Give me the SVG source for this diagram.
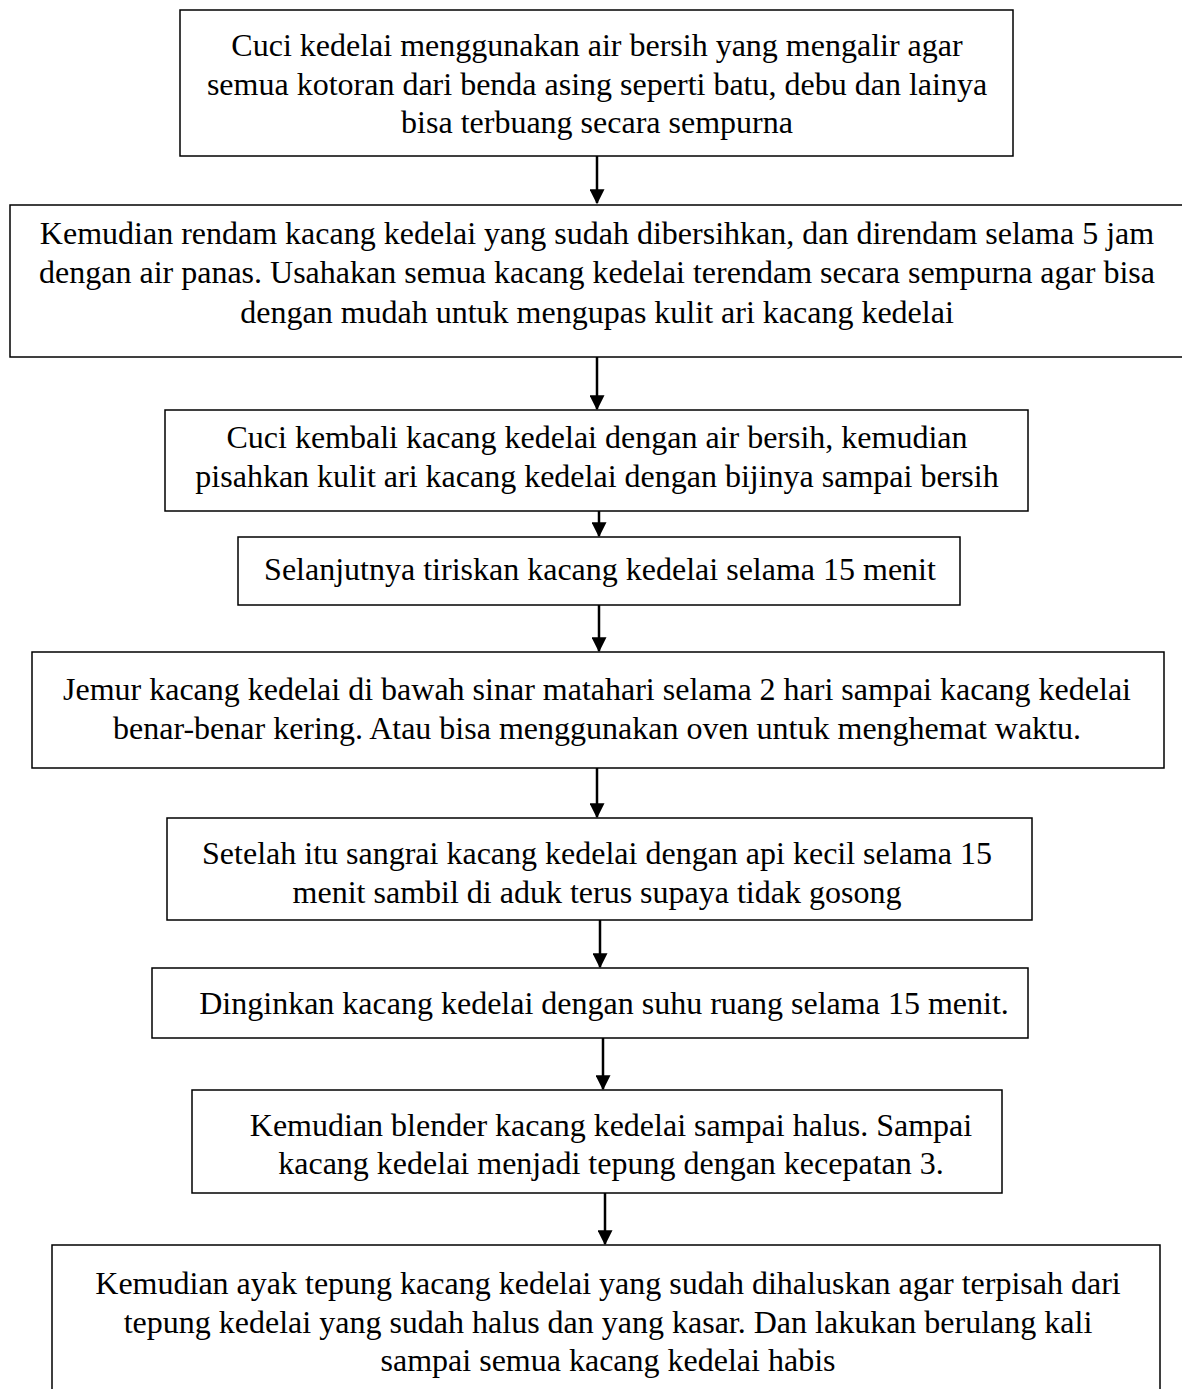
<svg xmlns="http://www.w3.org/2000/svg" width="1182" height="1389" viewBox="0 0 1182 1389">
<style>
  .box { fill: #ffffff; stroke: #000000; stroke-width: 1.5; }
  .t { font-family: "Liberation Serif", "Times New Roman", serif; font-size: 32px; fill: #000000; text-anchor: middle; }
  .conn { stroke: #000000; stroke-width: 2.5; fill: none; marker-end: url(#ah); }
</style>
<defs>
  <marker id="ah" markerWidth="6" markerHeight="6" refX="5.5" refY="3" orient="auto" markerUnits="strokeWidth">
    <path d="M0,0 L6,3 L0,6 Z" fill="#000000"/>
  </marker>
</defs>
<rect width="1182" height="1389" fill="#ffffff"/>
<g id="connectors">
  <line class="conn" x1="597" y1="156" x2="597" y2="203"/>
  <line class="conn" x1="597" y1="357" x2="597" y2="409"/>
  <line class="conn" x1="599" y1="511" x2="599" y2="536"/>
  <line class="conn" x1="599" y1="605" x2="599" y2="651"/>
  <line class="conn" x1="597" y1="768" x2="597" y2="817"/>
  <line class="conn" x1="600" y1="920" x2="600" y2="967"/>
  <line class="conn" x1="603" y1="1038" x2="603" y2="1089"/>
  <line class="conn" x1="605" y1="1193" x2="605" y2="1244"/>
</g>
<g id="n1">
  <rect class="box" x="180" y="10" width="833" height="146"/>
  <text class="t" x="597" y="56">Cuci kedelai menggunakan air bersih yang mengalir agar</text>
  <text class="t" x="597" y="95">semua kotoran dari benda asing seperti batu, debu dan lainya</text>
  <text class="t" x="597" y="133">bisa terbuang secara sempurna</text>
</g>
<g id="n2">
  <rect class="box" x="10" y="205" width="1190" height="152"/>
  <text class="t" x="597" y="244">Kemudian rendam kacang kedelai yang sudah dibersihkan, dan direndam selama 5 jam</text>
  <text class="t" x="597" y="283">dengan air panas. Usahakan semua kacang kedelai terendam secara sempurna agar bisa</text>
  <text class="t" x="597" y="323">dengan mudah untuk mengupas kulit ari kacang kedelai</text>
</g>
<g id="n3">
  <rect class="box" x="165" y="410" width="863" height="101"/>
  <text class="t" x="597" y="448">Cuci kembali kacang kedelai dengan air bersih, kemudian</text>
  <text class="t" x="597" y="487">pisahkan kulit ari kacang kedelai dengan bijinya sampai bersih</text>
</g>
<g id="n4">
  <rect class="box" x="238" y="537" width="722" height="68"/>
  <text class="t" x="600" y="580">Selanjutnya tiriskan kacang kedelai selama 15 menit</text>
</g>
<g id="n5">
  <rect class="box" x="32" y="652" width="1132" height="116"/>
  <text class="t" x="597" y="700">Jemur kacang kedelai di bawah sinar matahari selama 2 hari sampai kacang kedelai</text>
  <text class="t" x="597" y="739">benar-benar kering. Atau bisa menggunakan oven untuk menghemat waktu.</text>
</g>
<g id="n6">
  <rect class="box" x="167" y="818" width="865" height="102"/>
  <text class="t" x="597" y="864">Setelah itu sangrai kacang kedelai dengan api kecil selama 15</text>
  <text class="t" x="597" y="903">menit sambil di aduk terus supaya tidak gosong</text>
</g>
<g id="n7">
  <rect class="box" x="152" y="968" width="876" height="70"/>
  <text class="t" x="604" y="1014">Dinginkan kacang kedelai dengan suhu ruang selama 15 menit.</text>
</g>
<g id="n8">
  <rect class="box" x="192" y="1090" width="810" height="103"/>
  <text class="t" x="611" y="1136">Kemudian blender kacang kedelai sampai halus. Sampai</text>
  <text class="t" x="611" y="1174">kacang kedelai menjadi tepung dengan kecepatan 3.</text>
</g>
<g id="n9">
  <rect class="box" x="52" y="1245" width="1108" height="170"/>
  <text class="t" x="608" y="1294">Kemudian ayak tepung kacang kedelai yang sudah dihaluskan agar terpisah dari</text>
  <text class="t" x="608" y="1333">tepung kedelai yang sudah halus dan yang kasar. Dan lakukan berulang kali</text>
  <text class="t" x="608" y="1371">sampai semua kacang kedelai habis</text>
</g>
</svg>
